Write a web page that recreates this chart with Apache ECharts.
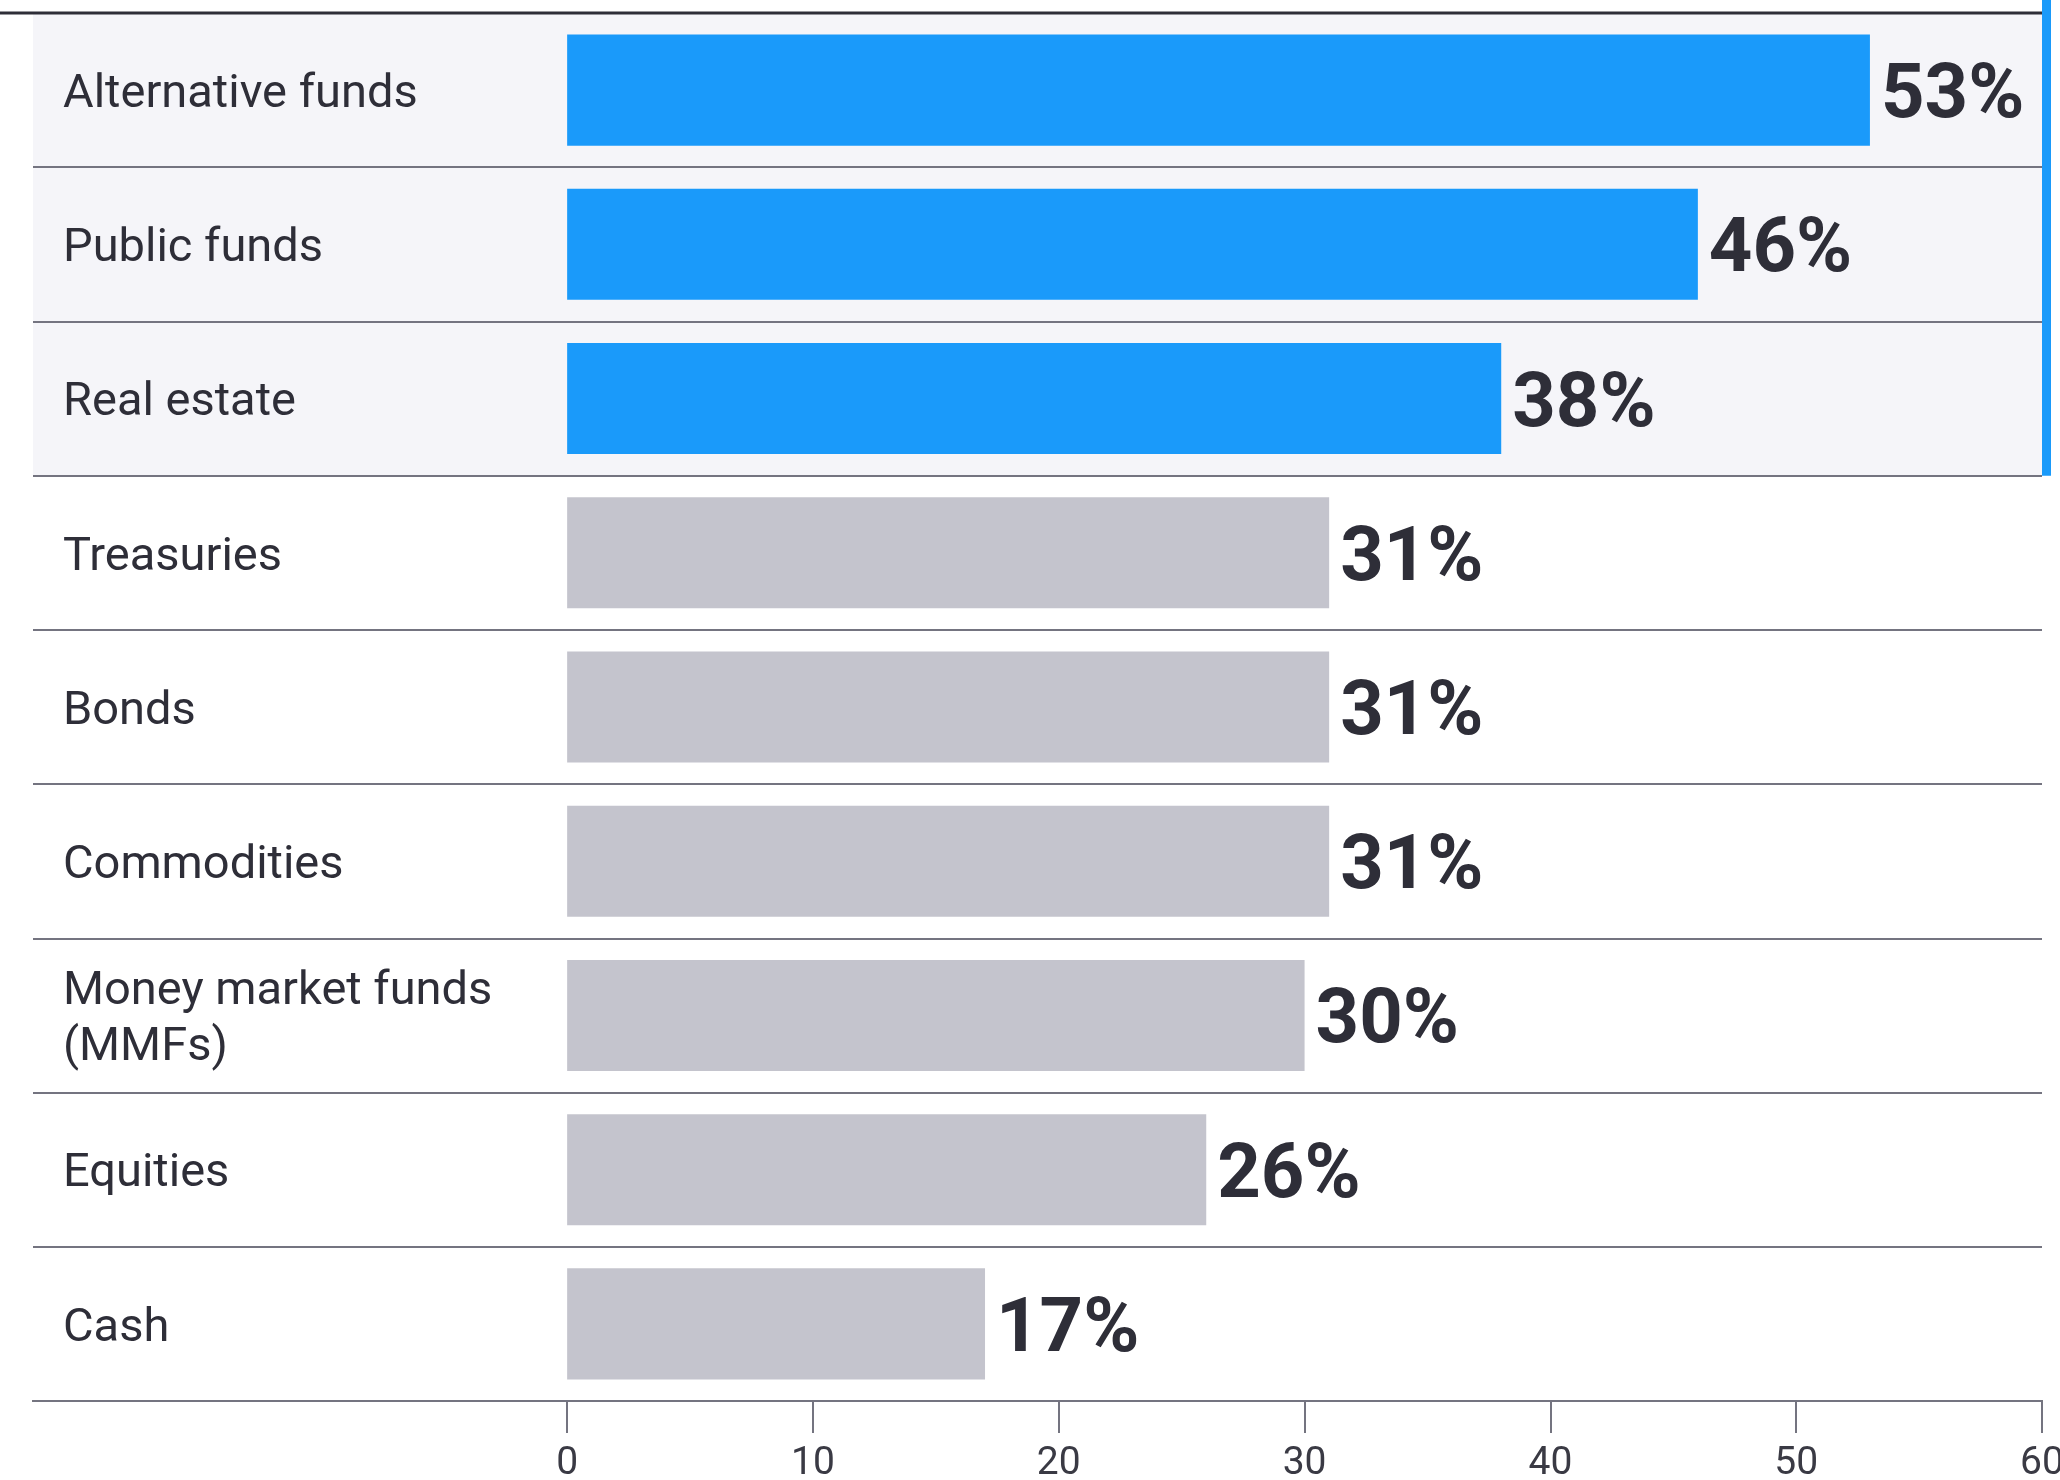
<!DOCTYPE html>
<html>
<head>
<meta charset="utf-8">
<script src="https://cdn.jsdelivr.net/npm/echarts@6/dist/echarts.min.js"></script>
<style>
html,body{margin:0;padding:0;background:#fff;overflow:hidden;}
#chart{width:2060px;height:1480px;}
</style>
</head>
<body>
<div id="chart"></div>
<script>
const categories = ['Alternative funds','Public funds','Real estate','Treasuries','Bonds','Commodities','Money market funds\n(MMFs)','Equities','Cash'];
const values = [53, 46, 38, 31, 31, 31, 30, 26, 17];
const highlightCount = 3;
const xTicks = [0, 10, 20, 30, 40, 50, 60];

const BLUE = '#1a9afa', GREY = '#c4c4cd', DARK = '#2e2e38', SHADE = '#f5f5f9';
const chart = echarts.init(document.getElementById('chart'));

const gridTop = 13, gridBottom = 79, gridLeft = 33, gridRight = 18;
const plotH = 1480 - gridTop - gridBottom;
const rowH = plotH / categories.length;

const areaColors = categories.map((c, i) => i < highlightCount ? SHADE : '#ffffff');

chart.setOption({
  animation: false,
  backgroundColor: '#ffffff',
  textStyle: { fontFamily: 'Roboto' },
  grid: { left: gridLeft, right: gridRight, top: gridTop, bottom: gridBottom, containLabel: false, outerBoundsMode: 'none' },
  xAxis: {
    type: 'value',
    min: -21.73,
    max: 60,
    splitLine: { show: false },
    axisLine: { show: true, lineStyle: { color: '#4a4a54', width: 2 } },
    axisTick: { show: true, customValues: xTicks, length: 32, lineStyle: { color: '#747480', width: 2 } },
    axisLabel: { customValues: xTicks, margin: 44, fontSize: 39, color: '#3a3a44', fontFamily: 'Roboto' }
  },
  yAxis: {
    type: 'category',
    data: categories,
    inverse: true,
    axisLine: { show: false },
    axisTick: { show: false },
    axisLabel: {
      inside: true, margin: 30, align: 'left',
      formatter: (v) => v.split('\n').map(s => '{t|' + s + '}').join('\n'),
      rich: { t: { fontSize: 47, color: DARK, lineHeight: 56, fontFamily: 'Roboto', padding: [10, 0, 0, 0] } }
    },
    splitLine: { show: true, lineStyle: { color: '#747480', width: 2 } },
    splitArea: { show: true, areaStyle: { color: areaColors } },
    z: 1
  },
  series: [{
    type: 'bar',
    barCategoryGap: '28%',
    data: values.map((v, i) => ({ value: v, itemStyle: { color: i < highlightCount ? BLUE : GREY } })),
    label: {
      show: true,
      position: 'right',
      distance: 11,
      offset: [0, 8],
      formatter: '{c}%',
      fontSize: 76,
      fontWeight: 'bold',
      fontFamily: 'Roboto',
      color: DARK
    }
  }],
  graphic: [
    { type: 'line', shape: { x1: 0, y1: gridTop, x2: 2060 - gridRight, y2: gridTop }, style: { stroke: DARK, lineWidth: 3 }, z: 100 },
    { type: 'rect', shape: { x: 2060 - gridRight, y: 0, width: 9, height: gridTop + rowH * highlightCount }, style: { fill: BLUE }, z: 100 }
  ]
});
</script>
</body>
</html>
